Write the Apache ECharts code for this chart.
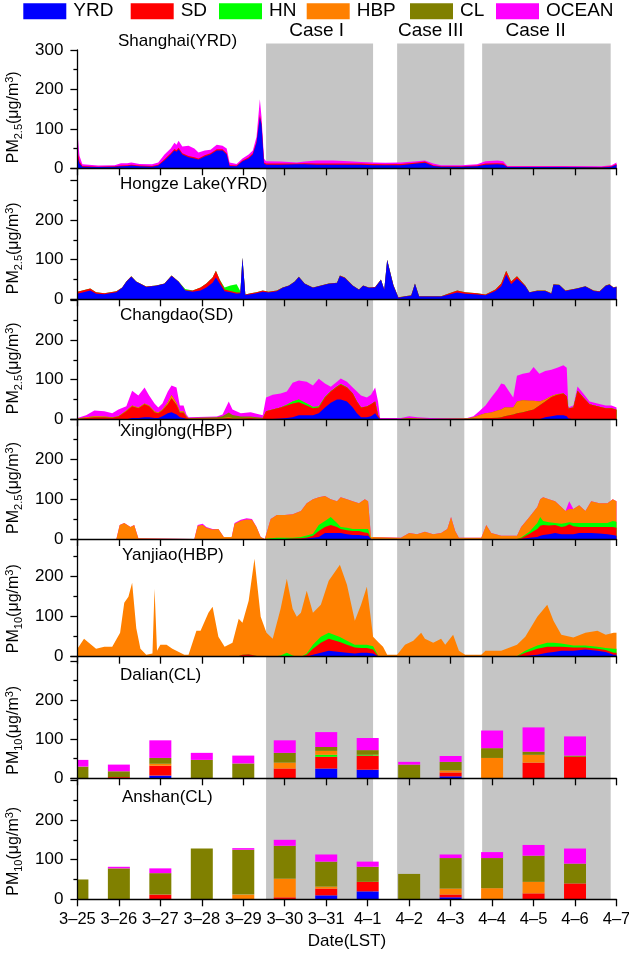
<!DOCTYPE html>
<html><head><meta charset="utf-8">
<script src="https://cdn.jsdelivr.net/npm/echarts@6/dist/echarts.min.js"></script>
<style>html,body{margin:0;padding:0;background:#fff}#c{width:629px;height:956px}</style>
</head><body><div id="c"></div>
<script>
// ---------- tick labels / categories ----------
const dateLabels = ['3–25','3–26','3–27','3–28','3–29','3–30','3–31','4–1','4–2','4–3','4–4','4–5','4–6','4–7'];
const sources = ['YRD','SD','HN','HBP','CL','OCEAN'];
const yLabelsTop = [0,100,200,300];
const yLabels = [0,100,200];
const caseNames = ['Case I','Case III','Case II'];
const caseStart = [4.55, 7.71, 9.76];   // days after 3-25 00:00
const caseEnd = [7.13, 9.33, 12.86];
const caseLabelAt = [5.77, 8.52, 11.05];

// ---------- Shanghai (YRD), PM2.5 ----------
const shX = [0,0.05,0.12,0.5,0.9, 1.05,1.2,1.3,1.5,1.8, 1.95,2.1,2.25,2.34,2.39, 2.44,2.53,2.68,2.82,2.92, 3.07,3.21,3.36,3.5,3.6, 3.67,3.84,3.98,4.13,4.23, 4.32,4.4,4.44,4.5,4.55, 4.9,5.29,5.48,5.77,6.16, 6.55,6.84,7.13,7.42,7.8, 8.19,8.38,8.58,8.77,9.26, 9.64,9.84,10.13,10.27,10.37, 10.7,11.67,12.64,12.88,13];
const shYRD = [30,12,4,3,4, 5,6,7,5,4, 7,20,35,45,42, 48,35,28,25,22, 30,35,45,45,35, 6,5,18,25,35, 65,130,110,12,9, 9,10,10,9,9, 9,9,8,8,8, 12,14,6,4,4, 5,9,10,9,3, 3,3,2,4,9];
const shSD = [15,5,2,1,1, 2,2,2,2,2, 2,3,3,4,4, 4,3,3,3,3, 3,3,3,3,3, 2,2,2,3,3, 3,5,4,3,3, 3,2,3,3,3, 3,3,3,2,3, 3,3,2,1,1, 2,3,3,3,1, 1,1,1,1,2];
const shOCEAN = [47,15,4,3,3, 6,5,6,4,4, 6,12,12,16,14, 18,17,26,22,15, 12,9,12,9,12, 7,4,5,7,7, 12,40,16,10,6, 5,3,4,8,8, 6,4,4,4,4, 3,3,4,3,3, 3,6,7,6,2, 2,2,2,3,4];

// ---------- Hongze Lake (YRD), PM2.5 ----------
const hzX = [0,0.31,0.45,0.65,0.94, 1.08,1.18,1.3,1.42,1.66, 1.9,2.1,2.27,2.44,2.6, 2.78,2.97,3.11,3.26,3.34, 3.43,3.55,3.69,3.84,3.93, 3.98,4.05,4.18,4.32,4.47, 4.61,4.81,4.95,5.1,5.24, 5.34,5.48,5.68,5.87,6.06, 6.26,6.33,6.45,6.64,6.79, 6.89,7.03,7.18,7.32,7.4, 7.47,7.62,7.74,7.9,8.05, 8.14,8.24,8.77,8.97,9.16, 9.35,9.64,9.84,10.08,10.22, 10.34,10.46,10.6,10.8,10.9, 11.09,11.28,11.43,11.48,11.62, 11.77,12.06,12.25,12.45,12.59, 12.74,12.83,12.93,13];
const hzYRD = [14,22,14,13,18, 29,44,57,44,31, 34,39,59,44,22, 19,22,30,42,55, 40,20,18,14,15, 105,11,13,15,19, 17,20,29,34,44, 56,39,29,34,39, 41,59,54,34,24, 34,29,30,49,24, 99,35,4,7,9, 39,7,7,12,17, 14,12,10,21,33, 62,38,52,33,17, 21,21,14,37,36, 21,27,32,21,19, 34,37,29,31];
const hzSD = [5,5,4,2,2, 1,1,1,1,1, 1,1,1,1,1, 3,8,10,13,17, 10,5,3,3,2, 0,1,2,3,3, 2,2,1,1,1, 1,1,1,1,1, 1,1,1,1,1, 1,1,1,1,1, 1,1,1,1,1, 1,1,1,3,5, 4,3,2,4,7, 10,7,6,2,1, 1,1,1,1,1, 1,1,1,1,1, 1,1,1,1];
const hzHN = [0,0,0,0,0, 0,0,0,0,0, 0,0,0,0,3, 0,0,0,0,0, 0,5,14,21,3, 0,0,0,0,0, 0,0,0,0,0, 0,0,0,0,0, 0,0,0,0,0, 0,0,0,0,0, 0,0,0,0,0, 0,0,0,0,0, 0,0,0,0,0, 0,0,0,0,0, 0,0,0,0,0, 0,0,0,0,0, 0,0,0,0];

// ---------- Changdao (SD), PM2.5 ----------
const cdX = [0,0.21,0.41,0.65,0.84, 0.99,1.18,1.32,1.47,1.62, 1.73,1.86,1.95,2.05,2.18, 2.27,2.39,2.47,2.56,2.63, 2.68,3.36,3.5,3.65,3.74, 3.94,4.18,4.32,4.47,4.55, 4.71,4.9,5.05,5.19,5.34, 5.53,5.68,5.82,5.97,6.11, 6.26,6.35,6.5,6.64,6.74, 6.84,6.98,7.08,7.18,7.25, 7.3,7.8,8.0,8.2,8.5, 9.4,9.55,9.69,9.84,9.98, 10.13,10.22,10.3,10.41,10.51, 10.6,10.74,10.9,11.0,11.14, 11.28,11.43,11.57,11.72,11.8, 11.84,11.96,12.06,12.2,12.35, 12.54,12.74,12.88,13];
const cdYRD = [0,0,0,0,0, 0,0,3,3,5, 5,3,3,8,15, 18,12,5,3,1, 0,0,0,0,0, 0,0,0,0,0, 1,2,3,5,10, 10,10,15,30,42, 50,50,45,30,15, 5,5,8,15,5, 0,0,0,0,0, 0,0,0,0,0, 0,0,0,0,0, 0,0,0,0,0, 5,8,10,10,8, 2,0,0,0,0, 0,0,0,0];
const cdSD = [1,3,5,5,4, 7,20,30,25,33, 28,15,12,15,23, 35,25,12,14,4, 2,2,2,3,2, 2,3,2,2,20, 24,28,32,35,33, 25,18,15,25,28, 32,38,35,35,30, 25,27,30,30,5, 1,1,2,1,1, 1,2,2,3,3, 4,5,8,10,12, 15,18,22,25,35, 40,48,52,55,50, 25,30,72,55,38, 33,28,28,24];
const cdHN = [0,0,0,0,0, 0,0,0,0,0, 0,0,0,0,0, 0,0,0,0,0, 0,0,0,0,0, 0,0,0,0,0, 0,0,2,5,7, 5,3,2,1,1, 1,1,1,0,0, 0,0,0,0,0, 0,0,0,0,0, 0,0,0,0,0, 0,0,0,0,0, 0,0,0,0,0, 0,0,0,0,0, 0,0,0,0,0, 0,0,0,0];
const cdHBP = [1,2,3,2,1, 1,2,2,2,2, 2,2,2,2,5, 8,5,3,3,2, 1,1,1,2,1, 1,1,1,1,0, 0,0,0,0,0, 0,0,0,0,0, 0,0,0,0,0, 0,0,0,0,0, 0,0,1,1,0, 1,3,8,12,14, 18,20,22,20,18, 30,30,25,22,10, 5,3,2,0,0, 0,0,0,0,0, 0,0,0,0];
const cdCL = [0,0,0,0,0, 0,0,0,0,0, 0,0,0,0,0, 0,0,0,0,0, 0,2,5,12,8, 4,3,2,1,0, 0,0,0,0,0, 0,0,0,0,0, 0,0,0,0,0, 0,0,0,0,0, 0,0,0,0,0, 0,0,0,0,0, 0,0,0,0,0, 0,0,0,0,0, 0,0,0,0,0, 0,0,0,0,0, 0,0,0,0];
const cdOCEAN = [1,5,14,13,10, 17,11,37,30,40, 25,20,13,15,27, 24,38,15,15,5, 2,2,4,28,14, 8,11,9,6,35, 37,35,33,47,48, 55,54,70,34,11, 12,14,14,15,25, 30,23,24,35,35, 2,2,5,3,2, 1,3,10,20,38, 53,65,58,40,25, 65,67,71,85,70, 72,66,66,71,72, 3,5,11,10,7, 7,7,7,6];

// ---------- Xinglong (HBP), PM2.5 ----------
const xlX = [0,0.94,1.02,1.13,1.28, 1.37,1.47,2.82,2.9,3.02, 3.11,3.26,3.4,3.53,3.72, 3.79,3.94,4.08,4.21,4.32, 4.42,4.52,4.66,4.81,5.0, 5.19,5.39,5.53,5.68,5.82, 5.97,6.11,6.26,6.35,6.5, 6.64,6.79,6.93,7.01,7.08, 7.8,8.0,8.19,8.38,8.58, 8.77,8.92,9.01,9.11,9.2, 9.74,9.86,9.98,10.22,10.6, 10.7,10.9,11.09,11.16,11.23, 11.37,11.52,11.67,11.77,11.86, 11.96,12.1,12.25,12.39,12.59, 12.78,12.91,13];
const xlYRD = [0,0,0,0,0, 0,0,0,0,0, 0,0,0,0,0, 0,0,0,0,0, 0,0,0,0,0, 0,0,1,3,5, 15,15,15,15,12, 10,10,8,8,0, 0,0,0,0,0, 0,0,0,0,0, 0,0,0,0,0, 0,3,5,8,10, 12,15,12,12,12, 12,15,15,15,14, 12,10,8];
const xlSD = [0,0,0,0,0, 0,0,0,0,0, 0,0,0,0,0, 0,0,0,0,0, 0,0,0,0,0, 1,2,3,5,15, 15,20,15,10,10, 10,10,8,7,0, 0,0,0,0,0, 0,0,0,0,0, 0,0,0,0,0, 2,10,20,25,25, 22,20,18,20,25, 20,15,15,15,16, 18,20,20];
const xlHN = [0,0,0,0,0, 0,0,0,0,0, 0,0,0,0,0, 0,0,0,0,0, 0,0,2,3,3, 2,3,5,5,15, 15,20,10,5,6, 5,5,9,10,0, 0,0,0,0,0, 0,0,0,0,0, 0,0,0,0,0, 2,5,15,22,10, 8,5,8,8,5, 8,10,10,10,10, 10,15,15];
const xlHBP = [0,0,35,40,30, 35,2,0,33,35, 28,24,25,5,5, 38,46,49,48,30, 5,0,48,57,57, 59,65,81,87,70, 63,45,55,75,72, 70,65,75,70,5, 3,15,12,18,12, 15,25,55,20,3, 3,35,15,8,8, 26,37,40,45,60, 58,55,42,30,33, 35,45,30,55,50, 50,55,52];
const xlOCEAN = [0,0,0,0,0, 0,0,0,2,3, 2,1,0,0,0, 2,2,3,2,0, 0,0,0,0,0, 0,0,0,0,0, 0,0,0,0,0, 0,0,0,0,0, 0,0,0,0,0, 0,0,0,0,0, 0,0,0,0,0, 0,0,0,0,0, 0,0,0,0,20, 0,0,0,0,0, 0,0,0];

// ---------- Yanjiao (HBP), PM10 ----------
const yjX = [0,0.16,0.45,0.65,0.84, 1.03,1.13,1.23,1.32,1.42, 1.52,1.66,1.81,1.86,1.92, 2.0,2.15,2.29,2.58,2.68, 2.87,2.97,3.16,3.26,3.4, 3.55,3.74,3.89,3.98,4.13, 4.27,4.42,4.56,4.71,4.9, 5.05,5.19,5.29,5.39,5.53, 5.68,5.87,6.06,6.33,6.5, 6.69,6.84,6.98,7.13,7.27, 7.37,7.47,7.71,7.9,8.1, 8.29,8.38,8.58,8.77,8.87, 9.06,9.2,9.35,9.74,9.84, 10.22,10.6,10.8,11.09,11.33, 11.48,11.67,11.96,12.25,12.54, 12.74,12.93,13];
const yjYRD = [0,0,0,0,0, 0,0,0,0,0, 0,0,0,0,0, 0,0,0,0,0, 0,0,0,0,0, 0,0,0,0,0, 0,0,0,0,0, 0,0,0,0,0, 5,10,15,12,10, 8,10,10,8,0, 0,0,0,0,0, 0,0,0,0,0, 0,0,0,0,0, 0,0,2,5,10, 12,15,15,18,15, 12,5,5];
const yjSD = [0,0,0,0,0, 0,0,0,2,1, 0,0,0,0,0, 0,0,0,0,0, 0,0,0,0,0, 0,0,2,5,6, 3,0,0,0,0, 0,0,0,0,5, 15,25,30,25,20, 15,12,12,10,0, 0,0,0,0,0, 0,0,0,0,0, 0,0,0,0,0, 0,1,8,15,15, 13,10,8,5,5, 5,5,5];
const yjHN = [0,0,0,0,0, 0,0,0,0,0, 0,0,0,0,0, 0,0,0,0,0, 0,0,0,0,0, 0,0,0,0,0, 0,0,0,0,3, 10,3,0,0,3, 10,15,15,12,10, 7,8,8,8,0, 0,0,0,0,0, 0,0,0,0,0, 0,0,0,0,0, 0,1,5,8,10, 10,8,5,5,5, 5,10,10];
const yjHBP = [20,45,20,25,25, 60,135,150,183,70, 20,5,8,170,15, 30,30,20,5,5, 65,65,110,125,50, 25,35,93,80,134, 242,100,60,45,117, 185,117,100,110,157, 80,80,130,181,140, 60,100,145,24,35, 25,5,5,30,40, 60,45,35,45,30, 55,15,5,5,15, 15,28,35,72,95, 55,22,20,32,40, 33,40,40];

// ---------- Daily bars: Dalian (CL) and Anshan (CL), PM10 ----------
const barDays = [0,1,2,3,4,5,6,7,8,9,10,11,12];
const dlYRD = [0,0,7,0,0,0,25,22,0,5,0,0,0];
const dlSD = [0,3,25,0,0,25,30,36,0,10,0,40,55];
const dlHN = [0,0,0,0,0,0,5,2,0,0,0,0,0];
const dlHBP = [0,0,5,0,0,15,10,0,0,5,52,20,0];
const dlCL = [30,15,15,47,38,25,10,12,35,22,25,8,3];
const dlOCEAN = [17,17,45,18,20,32,38,31,7,15,45,62,49];
const asYRD = [0,0,0,0,0,0,10,20,0,5,0,0,0];
const asSD = [0,0,12,0,0,5,17,24,0,7,0,15,40];
const asHBP = [0,0,0,0,12,47,5,0,0,15,28,29,0];
const asCL = [50,78,54,128,113,83,63,38,64,77,76,66,50];
const asOCEAN = [0,4,12,0,4,15,18,13,0,9,15,27,38];

// ---------- panel definitions ----------
const panels = [
  {title:'Shanghai(YRD)', pm:'2.5', kind:'area', x:shX, s:{YRD:shYRD, SD:shSD, OCEAN:shOCEAN}},
  {title:'Hongze Lake(YRD)', pm:'2.5', kind:'area', x:hzX, s:{YRD:hzYRD, SD:hzSD, HN:hzHN}},
  {title:'Changdao(SD)', pm:'2.5', kind:'area', x:cdX, s:{YRD:cdYRD, SD:cdSD, HN:cdHN, HBP:cdHBP, CL:cdCL, OCEAN:cdOCEAN}},
  {title:'Xinglong(HBP)', pm:'2.5', kind:'area', x:xlX, s:{YRD:xlYRD, SD:xlSD, HN:xlHN, HBP:xlHBP, OCEAN:xlOCEAN}},
  {title:'Yanjiao(HBP)', pm:'10', kind:'area', x:yjX, s:{YRD:yjYRD, SD:yjSD, HN:yjHN, HBP:yjHBP}},
  {title:'Dalian(CL)', pm:'10', kind:'bar', x:barDays, s:{YRD:dlYRD, SD:dlSD, HN:dlHN, HBP:dlHBP, CL:dlCL, OCEAN:dlOCEAN}},
  {title:'Anshan(CL)', pm:'10', kind:'bar', x:barDays, s:{YRD:asYRD, SD:asSD, HBP:asHBP, CL:asCL, OCEAN:asOCEAN}}
];

// ---------- layout & style (pixels) ----------
const colors = {YRD:'#0000ff', SD:'#ff0000', HN:'#00ff00', HBP:'#ff8000', CL:'#808000', OCEAN:'#ff00ff'};
const FONT = "'Liberation Sans', Arial, Helvetica, sans-serif";
const PLOT_LEFT = 77.4, PLOT_RIGHT = 12.5;
const BAR_W = 22;
const layout = [
  {top:50,    height:118.3, max:300,   tx:118, ty:41.5},
  {top:168.3, height:131,   max:330.4, tx:120, ty:184},
  {top:299.3, height:120,   max:302.6, tx:120, ty:315.7},
  {top:419.3, height:119.7, max:300.4, tx:120, ty:431.7},
  {top:539,   height:117.7, max:294.2, tx:122, ty:555},
  {top:656.7, height:121.6, max:310.6, tx:120, ty:675},
  {top:778.3, height:121,   max:305.1, tx:122, ty:797.7}
];
const legendLeft = [23.3,130.7,219,306.7,410,496];
const shadeTop = 43.5, shadeBottom = 899.3;
const GRAY = '#c5c5c5';

const grids = [], xAxes = [], yAxes = [], series = [], graphics = [];
const axisLineStyle = {color:'#000', width:1.3};

// cumulative layer tops (stack order = legend order, YRD at the bottom)
function cumulate(p) {
  const present = sources.filter(s => p.s[s]);
  const out = [];
  let run = p.x.map(() => 0);
  present.forEach(src => {
    const base = run.slice();
    run = run.map((v, k) => v + p.s[src][k]);
    out.push({src, base, top: run.slice()});
  });
  return out;
}

panels.forEach((p, i) => {
  const L = layout[i];
  grids.push({left:PLOT_LEFT, right:PLOT_RIGHT, top:L.top, height:L.height, outerBoundsMode:'none', containLabel:false});
  const last = i === panels.length - 1;
  xAxes.push({
    gridIndex:i, type:'value', min:0, max:13, interval:1, z:5,
    axisLine:{show:true, onZero:false, lineStyle:axisLineStyle},
    axisTick:{show:true, inside:false, length:7, lineStyle:axisLineStyle},
    axisLabel:{show:last, formatter:v => dateLabels[Math.round(v)] || '', fontSize:16.5, fontFamily:FONT, color:'#000', margin:12},
    splitLine:{show:false},
    name: last ? 'Date(LST)' : '', nameLocation:'middle', nameGap:34,
    nameTextStyle:{fontSize:17, fontFamily:FONT, color:'#000'}
  });
  const labs = i === 0 ? yLabelsTop : yLabels;
  yAxes.push({
    gridIndex:i, type:'value', min:0, max:L.max, interval:100, z:5,
    axisLine:{show:true, onZero:false, lineStyle:axisLineStyle},
    axisTick:{show:true, inside:false, length:7, lineStyle:axisLineStyle},
    minorTick:{show:true, splitNumber:2, length:4, lineStyle:axisLineStyle},
    axisLabel:{formatter:v => labs.indexOf(v) >= 0 ? String(v) : '', fontSize:17, fontFamily:FONT, color:'#000', margin:14},
    splitLine:{show:false}, minorSplitLine:{show:false}
  });
  const layers = cumulate(p);
  if (p.kind === 'area') {
    // draw from the top layer down, each filled to zero, so lower sources sit on top
    layers.slice().reverse().forEach(ly => {
      series.push({
        type:'line', name:ly.src, xAxisIndex:i, yAxisIndex:i,
        data: p.x.map((x, k) => [x, ly.top[k]]),
        symbol:'none', showSymbol:false, smooth:false, color:colors[ly.src],
        lineStyle:{width:0, color:colors[ly.src]}, itemStyle:{color:colors[ly.src]},
        areaStyle:{color:colors[ly.src], opacity:1, origin:'start'}, z:2, silent:true,
        emphasis:{disabled:true}
      });
    });
  } else {
    layers.forEach(ly => {
      series.push({
        type:'custom', name:ly.src, xAxisIndex:i, yAxisIndex:i, silent:true, z:2,
        color:colors[ly.src], itemStyle:{color:colors[ly.src]},
        data: p.x.map((x, k) => [x, ly.base[k], ly.top[k]]),
        dimensions:['day','base','top'],
        encode:{x:0, y:[1,2]},
        renderItem:(params, api) => {
          const lo = api.value(1), hi = api.value(2);
          if (hi - lo <= 0) return null;
          const pt = api.coord([api.value(0), hi]);
          const pb = api.coord([api.value(0), lo]);
          const cs = params.coordSys;
          const rect = echarts.graphic.clipRectByRect(
            {x:pt[0] - BAR_W / 2, y:pt[1], width:BAR_W, height:pb[1] - pt[1]},
            {x:cs.x, y:cs.y, width:cs.width, height:cs.height});
          if (!rect) return null;
          return {type:'rect', shape:rect, style:{fill:colors[ly.src]}};
        }
      });
    });
  }
  // panel title
  graphics.push({type:'text', x:L.tx, y:L.ty, z:10, style:{text:p.title, fontSize:17, fontFamily:FONT, fill:'#000', align:'left', verticalAlign:'middle'}});
  // y-axis name with sub/superscripts
  const zeroY = L.top + L.height;
  const cy = zeroY - (p.pm === '2.5' ? 51 : 48);
  graphics.push({
    type:'text', x:14, y:cy, rotation:Math.PI/2, z:10,
    style:{
      text:'{a|PM}{s|' + p.pm + '}{a|(μg/m}{p|3}{a|)}',
      align:'center', verticalAlign:'middle',
      rich:{
        a:{fontSize:16, fontFamily:FONT, fill:'#000', color:'#000', lineHeight:20},
        s:{fontSize:11, fontFamily:FONT, fill:'#000', color:'#000', lineHeight:11, verticalAlign:'bottom'},
        p:{fontSize:11, fontFamily:FONT, fill:'#000', color:'#000', lineHeight:11, verticalAlign:'top'}
      }
    }
  });
});

// background shading grid (continuous through all panels)
const bgIdx = panels.length;
grids.push({left:PLOT_LEFT, right:PLOT_RIGHT, top:shadeTop, height:shadeBottom - shadeTop, outerBoundsMode:'none', containLabel:false});
xAxes.push({gridIndex:bgIdx, type:'value', min:0, max:13, show:false});
yAxes.push({gridIndex:bgIdx, type:'value', min:0, max:1, show:false});
series.unshift({
  type:'custom', name:'cases', xAxisIndex:bgIdx, yAxisIndex:bgIdx, z:1, silent:true,
  data: caseStart.map((s, k) => [s, caseEnd[k], caseLabelAt[k]]),
  dimensions:['start','end','labelAt'],
  encode:{x:[0,1,2]},
  renderItem:(params, api) => {
    const a = api.coord([api.value(0), 1]);
    const b = api.coord([api.value(1), 0]);
    const t = api.coord([api.value(2), 1]);
    const k = params.dataIndex;
    return {type:'group', children:[
      {type:'rect', shape:{x:a[0], y:a[1], width:b[0]-a[0], height:b[1]-a[1]}, style:{fill:GRAY}},
      {type:'text', x:t[0], y:t[1]-13, style:{text:caseNames[k], fontSize:19, fontFamily:FONT, fill:'#000', align:'center', verticalAlign:'middle'}}
    ]};
  }
});

// legends (one per source so each item sits where the reference puts it)
const legends = sources.map((src, k) => ({
  data:[{name:src, itemStyle:{color:colors[src]}}], left:legendLeft[k], top:1.7, padding:0, itemGap:0,
  itemWidth:43, itemHeight:16, icon:'rect', selectedMode:false,
  itemStyle:{borderWidth:0},
  textStyle:{fontSize:19, fontFamily:FONT, color:'#000', padding:[0,0,0,2]}
}));

const chart = echarts.init(document.getElementById('c'), null, {renderer:'canvas'});
chart.setOption({
  animation:false,
  backgroundColor:'#fff',
  legend:legends,
  grid:grids, xAxis:xAxes, yAxis:yAxes,
  series, graphic:graphics
});
</script>
</body></html>
